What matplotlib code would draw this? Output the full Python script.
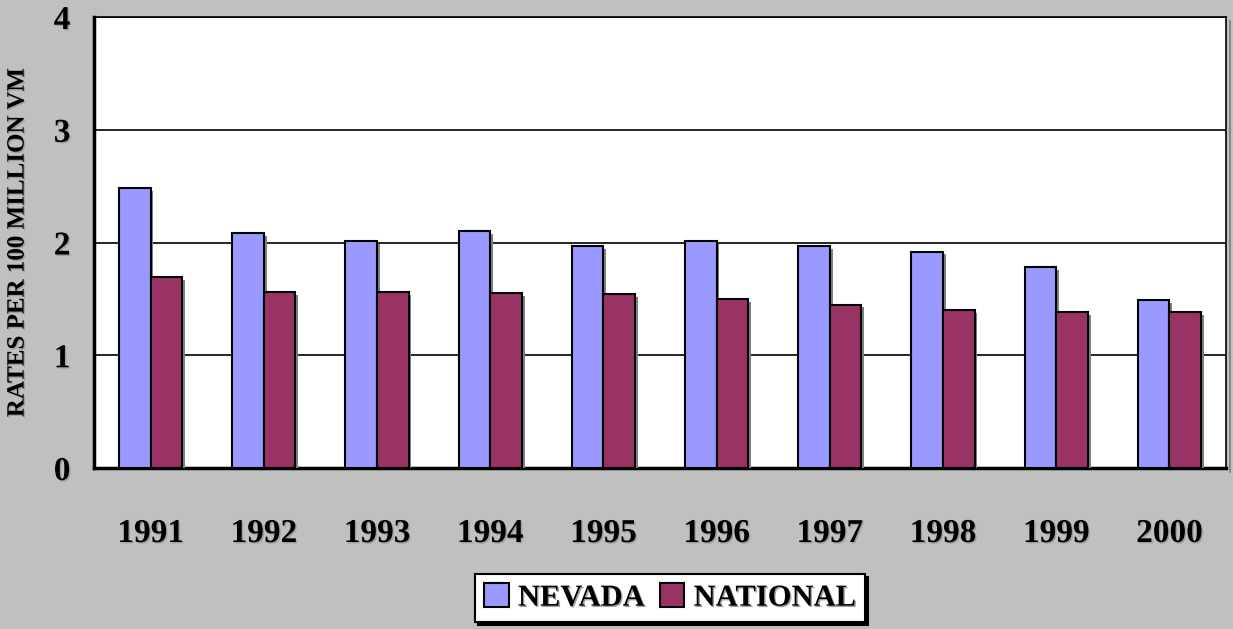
import matplotlib
matplotlib.use("Agg")
import matplotlib.pyplot as plt
import matplotlib.patheffects as pe
import numpy as np

years = ["1991", "1992", "1993", "1994", "1995", "1996", "1997", "1998", "1999", "2000"]
nevada = [2.48, 2.08, 2.01, 2.10, 1.97, 2.01, 1.97, 1.92, 1.78, 1.49]
national = [1.69, 1.56, 1.56, 1.55, 1.54, 1.50, 1.45, 1.40, 1.38, 1.38]
yticks = [0, 1, 2, 3, 4]

plt.rcParams['font.family'] = ['Liberation Serif', 'DejaVu Serif']
plt.rcParams['font.weight'] = 'bold'

fig = plt.figure(figsize=(12.33, 6.29), dpi=100, facecolor='#C0C0C0')
ax = fig.add_axes([94/1233, 1-468/629, (1226-94)/1233, (468-17)/629])
ax.set_facecolor('white')

x = np.arange(len(years))
w = 0.28
shadow = [pe.SimplePatchShadow(offset=(2, -2), shadow_rgbFace='#808080', alpha=1.0), pe.Normal()]
b1 = ax.bar(x - w/2, nevada, w, color='#9999FF', edgecolor='black', linewidth=1.5, zorder=3, label='NEVADA')
b2 = ax.bar(x + w/2, national, w, color='#993366', edgecolor='black', linewidth=1.5, zorder=3, label='NATIONAL')
for p in list(b1) + list(b2):
    p.set_path_effects(shadow)

ax.set_xlim(-0.5, len(years) - 0.5)
ax.set_ylim(0, 4)
ax.set_yticks(yticks)
ax.set_yticklabels([str(t) for t in yticks])
ax.set_xticks(x)
ax.set_xticklabels(years)
ax.yaxis.grid(True, color='black', linewidth=1.2, zorder=1)
ax.set_axisbelow(True)
ax.tick_params(axis='both', length=0, labelsize=24)
ax.tick_params(axis='y', pad=17)
ax.tick_params(axis='x', pad=36)

txt_shadow = [pe.SimplePatchShadow(offset=(1, -1), shadow_rgbFace='#A0A0A0', alpha=1.0), pe.Normal()]
for lab in ax.get_xticklabels() + ax.get_yticklabels():
    lab.set_fontweight('bold')
    lab.set_path_effects(txt_shadow)

ax.set_ylabel('RATES PER 100 MILLION VM', fontsize=18, fontweight='bold', labelpad=18)
ax.yaxis.label.set_path_effects(txt_shadow)

for side in ['left', 'bottom']:
    ax.spines[side].set_linewidth(2.5)
for side in ['top', 'right']:
    ax.spines[side].set_linewidth(1.2)
ax.spines['right'].set_path_effects([pe.SimpleLineShadow(offset=(3, -3), shadow_color='#808080', alpha=1.0), pe.Normal()])

leg = fig.legend(handles=[b1, b2], loc='center', bbox_to_anchor=(670/1233, 1-598/629),
                 ncol=2, frameon=True, fancybox=False, shadow={'color': 'black', 'alpha': 1.0},
                 prop={'weight': 'bold', 'size': 22}, handlelength=0.8, handleheight=0.8,
                 handletextpad=0.3, columnspacing=0.5, borderpad=0.3, edgecolor='black')
leg.get_frame().set_linewidth(1.5)
for t in leg.get_texts():
    t.set_path_effects(txt_shadow)
for h in leg.legend_handles:
    h.set_path_effects([pe.Normal()])

fig.savefig('out.png', dpi=100, facecolor=fig.get_facecolor())
